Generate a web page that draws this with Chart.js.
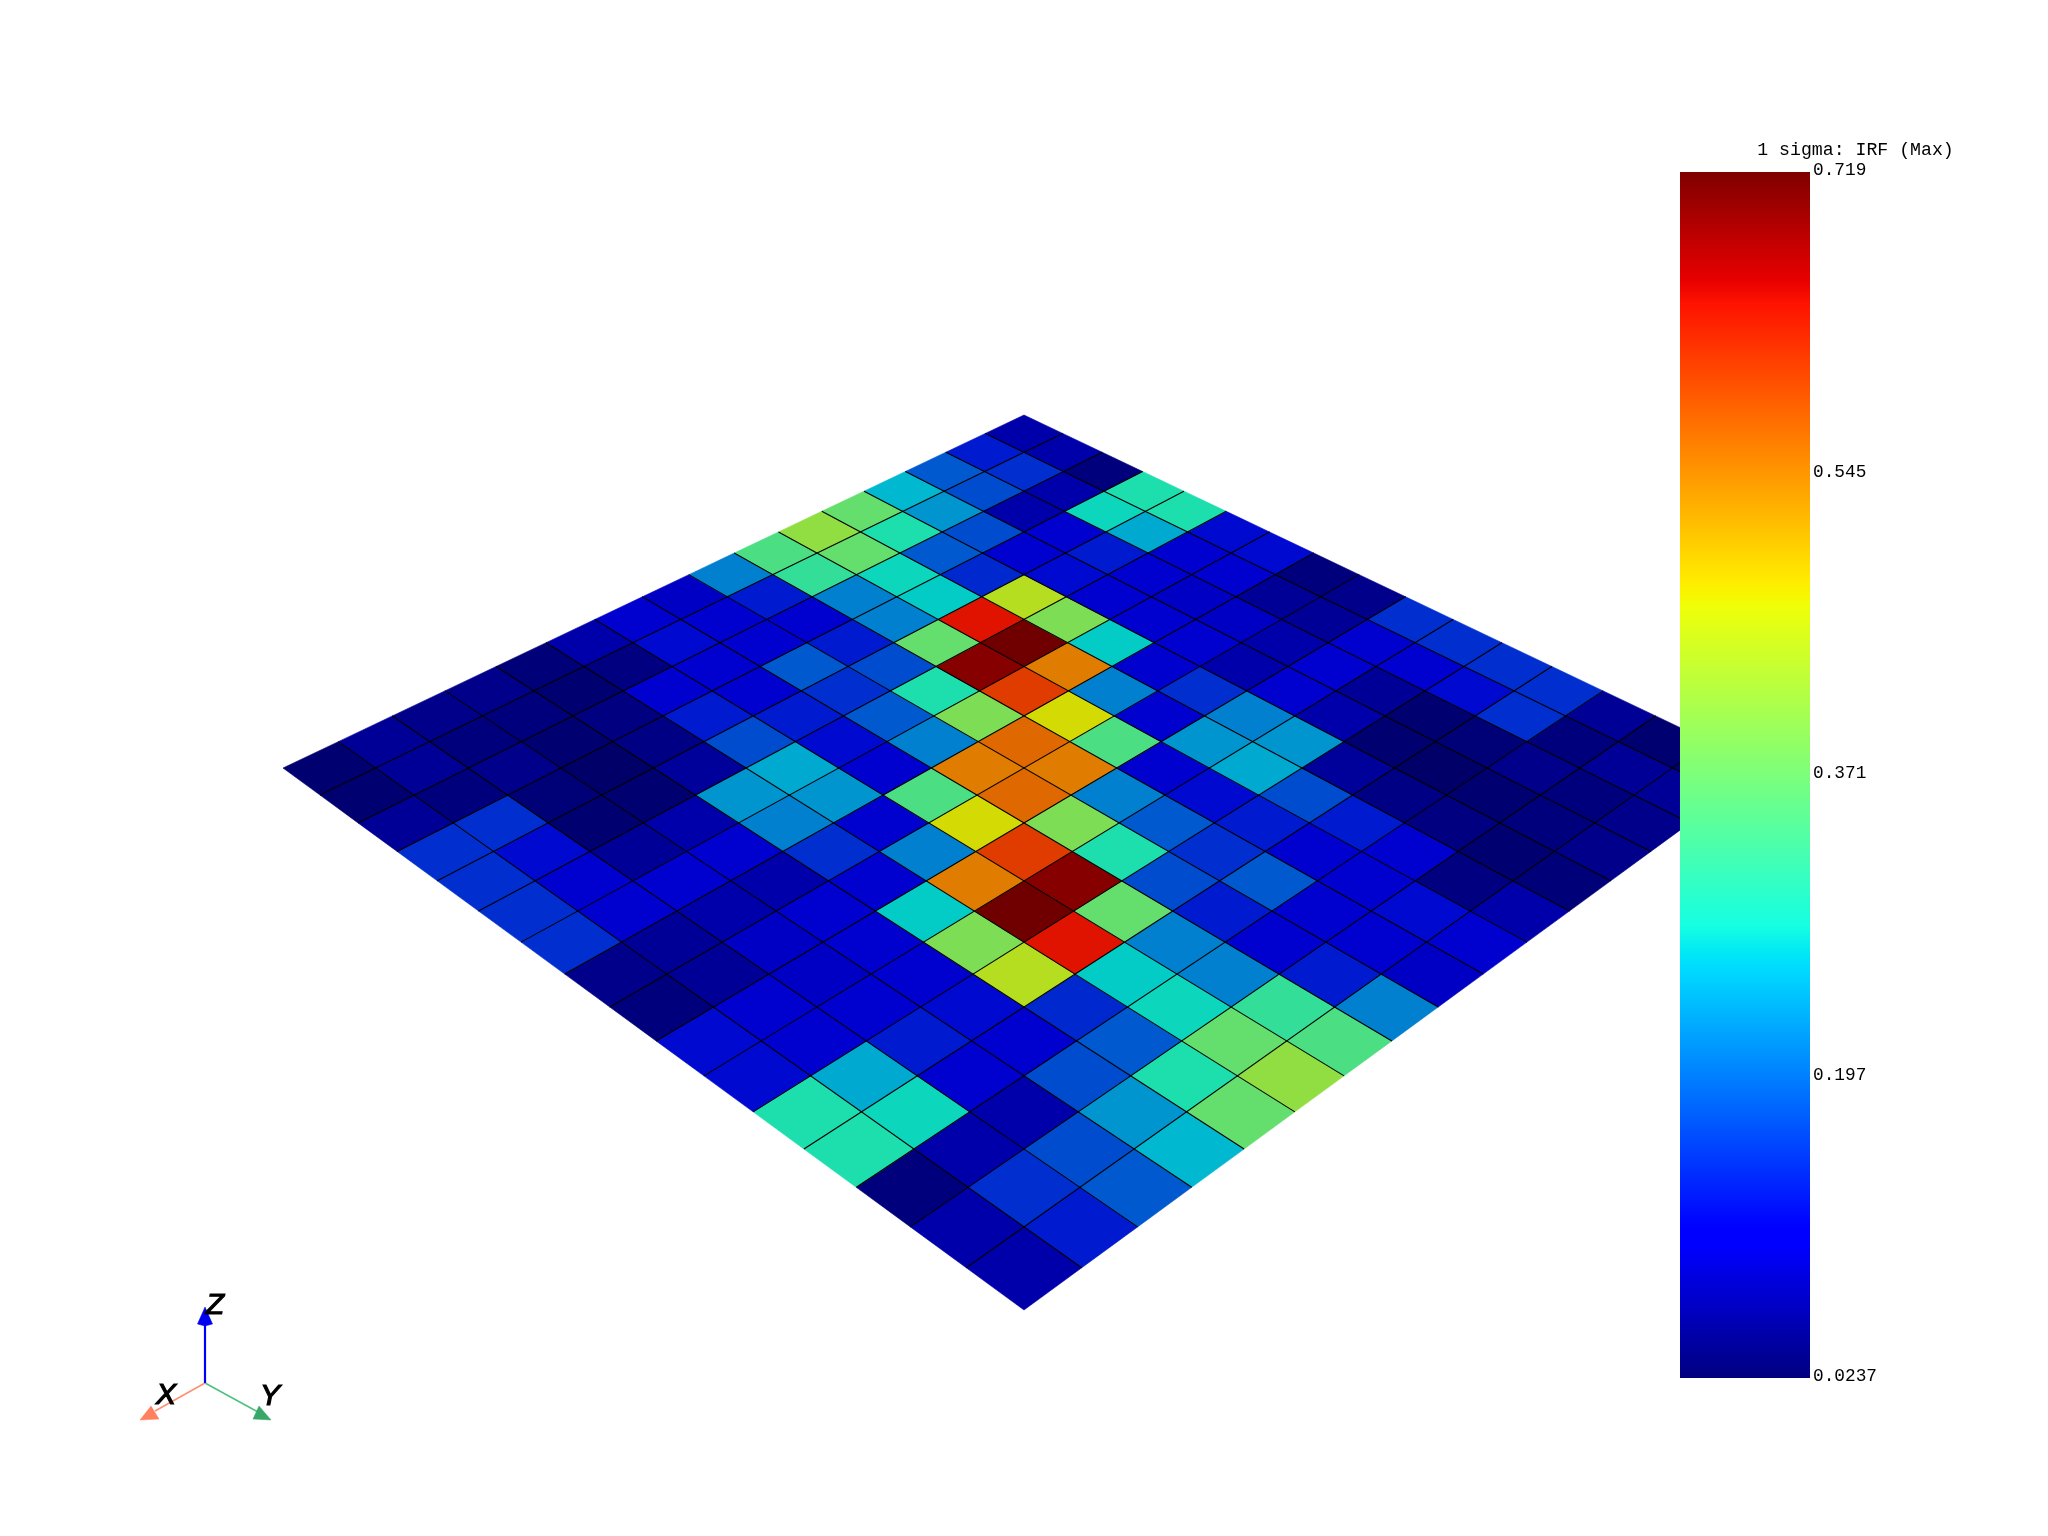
<!DOCTYPE html>
<html>
<head>
<meta charset="utf-8">
<style>
html,body{margin:0;padding:0;background:#fff;width:2048px;height:1536px;overflow:hidden}
#wrapMain{position:absolute;left:0;top:0;width:2048px;height:1536px}
#wrapBar{position:absolute;left:1639px;top:139px;width:392px;height:1255px}
</style>
<script src="https://cdn.jsdelivr.net/npm/chart.js@4"></script>
</head>
<body>
<div id="wrapMain"><canvas id="mesh"></canvas></div>
<div id="wrapBar"><canvas id="bar"></canvas></div>
<script>
// cell values, one list per row of the 16 x 16 plate
const row0  = [.073,.073,.040,.295,.295,.118,.118,.040,.050,.147,.147,.147,.147,.058,.030,.030];
const row1  = [.131,.147,.073,.279,.243,.105,.105,.058,.058,.105,.105,.118,.147,.040,.058,.058];
const row2  = [.180,.170,.073,.105,.131,.105,.092,.092,.073,.105,.058,.030,.035,.050,.040,.050];
const row3  = [.255,.227,.170,.105,.118,.105,.105,.105,.073,.105,.073,.030,.024,.030,.040,.050];
const row4  = [.363,.295,.180,.142,.441,.387,.270,.105,.147,.211,.227,.062,.045,.042,.030,.036];
const row5  = [.406,.363,.279,.270,.640,.719,.551,.211,.105,.227,.243,.170,.131,.105,.042,.073];
const row6  = [.340,.316,.211,.211,.363,.704,.606,.471,.340,.105,.118,.131,.105,.105,.118,.105];
const row7  = [.211,.131,.105,.131,.170,.295,.387,.568,.551,.211,.180,.147,.180,.105,.105,.092];
const row8  = [.092,.105,.105,.180,.147,.180,.211,.551,.568,.387,.295,.170,.131,.105,.131,.211];
const row9  = [.105,.118,.105,.105,.131,.118,.105,.340,.471,.606,.704,.363,.211,.211,.316,.340];
const row10 = [.073,.042,.105,.131,.170,.243,.227,.105,.211,.551,.719,.640,.270,.279,.363,.406];
const row11 = [.036,.030,.042,.045,.062,.227,.211,.147,.105,.270,.387,.441,.142,.180,.295,.363];
const row12 = [.050,.040,.030,.024,.030,.073,.105,.073,.105,.105,.105,.118,.105,.170,.227,.255];
const row13 = [.050,.040,.050,.035,.030,.058,.105,.073,.092,.092,.105,.131,.105,.073,.170,.180];
const row14 = [.058,.058,.040,.147,.118,.105,.105,.058,.058,.105,.105,.243,.279,.073,.147,.131];
const row15 = [.030,.030,.058,.147,.147,.147,.147,.050,.040,.118,.118,.295,.295,.040,.073,.073];
const rows = [row0,row1,row2,row3,row4,row5,row6,row7,row8,row9,row10,row11,row12,row13,row14,row15];

const barTicks = [0.0237,0.197,0.371,0.545,0.719];
const barLabels = ['0.0237','0.197','0.371','0.545','0.719'];
const barTitle = '1 sigma: IRF (Max)';
const vMin = 0.0237, vMax = 0.719;
const shade = [0.88,0.87,0.81];

// jet colour map
function interp(t, pts){
  if(t<=pts[0][0]) return pts[0][1];
  for(let k=1;k<pts.length;k++){
    if(t<=pts[k][0]){
      const a=pts[k-1],b=pts[k];
      return a[1]+(b[1]-a[1])*(t-a[0])/(b[0]-a[0]);
    }
  }
  return pts[pts.length-1][1];
}
const R_=[[0,0],[.35,0],[.66,1],[.89,1],[1,.5]];
const G_=[[0,0],[.125,0],[.375,1],[.64,1],[.91,0],[1,0]];
const B_=[[0,.5],[.11,1],[.34,1],[.65,0],[1,0]];
function jet(t,k){
  const c=(a,s)=>Math.round(255*s*interp(t,a));
  return `rgb(${c(R_,k[0])},${c(G_,k[1])},${c(B_,k[2])})`;
}

// camera: where the plate's four corners land in the view plane
const camTop=[1024,415], camLeft=[283,768], camBottom=[1024,1310], camRight=[1765,768];
const H=(()=>{
  const [x0,y0]=camTop,[x1,y1]=camLeft,[x2,y2]=camBottom,[x3,y3]=camRight;
  const dx1=x1-x2,dx2=x3-x2,sx=x0-x1+x2-x3,dy1=y1-y2,dy2=y3-y2,sy=y0-y1+y2-y3;
  const den=dx1*dy2-dx2*dy1;
  const g=(sx*dy2-dx2*sy)/den,h=(dx1*sy-sx*dy1)/den;
  return {a:x1-x0+g*x1,b:x3-x0+h*x3,c:x0,d:y1-y0+g*y1,e:y3-y0+h*y3,f:y0,g,h};
})();
const N=rows.length;
function project(i,j){
  const u=i/N,v=j/N,w=H.g*u+H.h*v+1;
  return {x:(H.a*u+H.b*v+H.c)/w,y:(H.d*u+H.e*v+H.f)/w};
}

const datasets=[];
rows.forEach((r,i)=>r.forEach((val,j)=>{
  const t=(val-vMin)/(vMax-vMin);
  datasets.push({
    data:[project(i,j),project(i,j+1),project(i+1,j+1),project(i+1,j),project(i,j)],
    showLine:true,fill:'shape',backgroundColor:jet(t,shade),
    borderColor:jet(t,shade),borderWidth:0.6,pointRadius:0,order:3
  });
}));
for(let k=1;k<N;k++){
  datasets.push({data:[project(k,0),project(k,N)],showLine:true,borderColor:'#000',borderWidth:1.1,pointRadius:0,order:2});
  datasets.push({data:[project(0,k),project(N,k)],showLine:true,borderColor:'#000',borderWidth:1.1,pointRadius:0,order:2});
}

// orientation triad
const triOrigin={x:205,y:1383};
const triad=[
  {end:{x:205,y:1324},tip:[{x:205,y:1307},{x:212.5,y:1324},{x:205,y:1326},{x:197.5,y:1324}],line:'#0000ff',head:'#0000f0',w:2.2},
  {end:{x:155,y:1411},tip:[{x:140,y:1420},{x:151,y:1406},{x:159,y:1419}],line:'#ff9070',head:'#ff8060',w:1.6},
  {end:{x:258,y:1412},tip:[{x:271,y:1420},{x:259,y:1406},{x:253,y:1419}],line:'#50c080',head:'#38a868',w:1.6}
];
triad.forEach(a=>{
  datasets.push({data:[triOrigin,a.end],showLine:true,borderColor:a.line,borderWidth:a.w,pointRadius:0,order:1});
  datasets.push({data:[...a.tip,a.tip[0]],showLine:true,fill:'shape',backgroundColor:a.head,borderColor:a.head,borderWidth:0.5,pointRadius:0,order:0});
});
const triLabels=[{t:'Z',x:215,y:1306},{t:'X',x:166,y:1396},{t:'Y',x:270,y:1397}];

const triLabelPlugin={
  id:'triLabels',
  afterDraw(chart){
    const {ctx,scales:{x,y}}=chart;
    ctx.save();
    ctx.font='italic 30px "Liberation Sans"';
    ctx.fillStyle='#000';ctx.textAlign='center';ctx.textBaseline='middle';
    triLabels.forEach(l=>{
      const px=x.getPixelForValue(l.x),py=y.getPixelForValue(l.y);
      ctx.fillText(l.t,px,py);ctx.strokeStyle='#000';ctx.lineWidth=1.2;ctx.strokeText(l.t,px,py);
    });
    ctx.restore();
  }
};

new Chart(document.getElementById('mesh'),{
  type:'scatter',
  data:{datasets},
  plugins:[triLabelPlugin],
  options:{
    responsive:true,maintainAspectRatio:false,animation:false,
    layout:{padding:0},
    plugins:{legend:{display:false},tooltip:{enabled:false},title:{display:false}},
    scales:{
      x:{type:'linear',min:0,max:2048,display:false},
      y:{type:'linear',min:0,max:1536,reverse:true,display:false}
    }
  }
});

function barGradient(c){
  const ca=c.chart.chartArea;
  if(!ca) return '#000';
  const g=c.chart.ctx.createLinearGradient(0,ca.bottom,0,ca.top);
  const stops=[0,.11,.125,.34,.35,.375,.64,.65,.66,.89,.91,1];
  stops.forEach(s=>g.addColorStop(s,jet(s,[1,1,1])));
  return g;
}

new Chart(document.getElementById('bar'),{
  type:'bar',
  data:{labels:[''],datasets:[{data:[[vMin,vMax]],backgroundColor:barGradient,borderWidth:0,barPercentage:1,categoryPercentage:1}]},
  options:{
    responsive:true,maintainAspectRatio:false,animation:false,
    layout:{padding:{left:41,right:0,top:0,bottom:16}},
    plugins:{
      legend:{display:false},tooltip:{enabled:false},
      title:{display:true,text:barTitle,color:'#000',align:'center',
        font:{family:'"Liberation Mono"',size:18.2,weight:'normal',lineHeight:1.2},
        padding:{top:0,bottom:11.2}}
    },
    scales:{
      x:{display:false},
      y:{
        type:'linear',position:'right',min:vMin,max:vMax,
        grid:{display:false,drawTicks:false},border:{display:false},
        afterBuildTicks(s){s.ticks=barTicks.map(v=>({value:v}));},
        afterFit(s){s.width=221;},
        ticks:{
          autoSkip:false,padding:3,labelOffset:-2,color:'#000',
          font:{family:'"Liberation Mono"',size:17.8},
          callback(v){return barLabels[barTicks.indexOf(v)];}
        }
      }
    }
  }
});
</script>
</body>
</html>
